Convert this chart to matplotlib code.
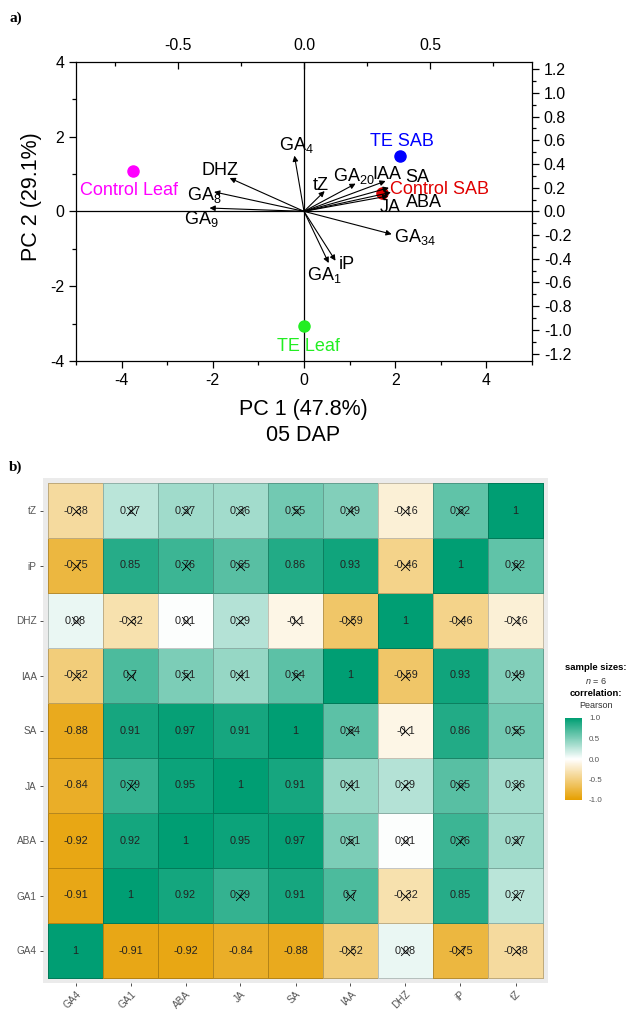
import numpy as np
import matplotlib as mpl
import matplotlib.pyplot as plt
from matplotlib.colors import LinearSegmentedColormap

mpl.rcParams['font.family'] = ['Liberation Sans', 'DejaVu Sans']
mpl.rcParams['mathtext.fontset'] = 'custom'
mpl.rcParams['mathtext.rm'] = 'Liberation Sans'
mpl.rcParams['mathtext.it'] = 'Liberation Sans:italic'
mpl.rcParams['mathtext.default'] = 'regular'
mpl.rcParams['axes.unicode_minus'] = False

# ---- panel a) PCA biplot data ----
samples = ['Control Leaf', 'TE SAB', 'Control SAB', 'TE Leaf']
pc1_scores = [-3.74, 2.10, 1.70, 0.0]
pc2_scores = [1.07, 1.49, 0.49, -3.07]
sample_colors = ['#FF00FF', '#0000FF', '#E00000', '#22EE22']

variables = ['GA4', 'DHZ', 'GA8', 'GA9', 'tZ', 'GA20', 'IAA', 'SA', 'JA', 'ABA', 'GA34', 'iP', 'GA1']
var_labels = ['GA$_4$', 'DHZ', 'GA$_8$', 'GA$_9$', 'tZ', 'GA$_{20}$', 'IAA', 'SA', 'JA', 'ABA',
              'GA$_{34}$', 'iP', 'GA$_1$']
load1 = [-0.038, -0.295, -0.357, -0.375, 0.082, 0.205, 0.324, 0.337, 0.335, 0.345, 0.348, 0.125, 0.098]
load2 = [0.470, 0.281, 0.164, 0.028, 0.171, 0.234, 0.256, 0.199, 0.130, 0.160, -0.193, -0.417, -0.436]

# label anchors (left, baseline) in PC units
var_label_pos = {'GA4': (-0.55, 1.64), 'DHZ': (-2.24, 0.96), 'GA8': (-2.57, 0.31), 'GA9': (-2.63, -0.33),
                 'tZ': (0.20, 0.58), 'GA20': (0.64, 0.80), 'IAA': (1.51, 0.87), 'SA': (2.23, 0.78),
                 'JA': (1.66, -0.02), 'ABA': (2.23, 0.12), 'GA34': (1.97, -0.82), 'iP': (0.76, -1.53),
                 'GA1': (0.07, -1.84)}
sample_label_pos = {'Control Leaf': (-4.91, 0.45), 'TE SAB': (1.44, 1.76),
                    'Control SAB': (1.88, 0.47), 'TE Leaf': (-0.59, -3.73)}

# ---- panel b) correlation matrix ----
hormones = ['GA4', 'GA1', 'ABA', 'JA', 'SA', 'IAA', 'DHZ', 'iP', 'tZ']
corr = np.array([
    [1, -0.91, -0.92, -0.84, -0.88, -0.52, 0.08, -0.75, -0.38],
    [-0.91, 1, 0.92, 0.79, 0.91, 0.7, -0.32, 0.85, 0.27],
    [-0.92, 0.92, 1, 0.95, 0.97, 0.51, 0.01, 0.76, 0.37],
    [-0.84, 0.79, 0.95, 1, 0.91, 0.41, 0.29, 0.65, 0.36],
    [-0.88, 0.91, 0.97, 0.91, 1, 0.64, -0.1, 0.86, 0.55],
    [-0.52, 0.7, 0.51, 0.41, 0.64, 1, -0.59, 0.93, 0.49],
    [0.08, -0.32, 0.01, 0.29, -0.1, -0.59, 1, -0.46, -0.16],
    [-0.75, 0.85, 0.76, 0.65, 0.86, 0.93, -0.46, 1, 0.62],
    [-0.38, 0.27, 0.37, 0.36, 0.55, 0.49, -0.16, 0.62, 1],
])
n_samples = 6
r_crit = 0.811  # two-sided p<0.05 for n=6

W, H = 629, 1010
fig = plt.figure(figsize=(W / 100, H / 100), dpi=100)

def box(l, t, r, b):
    return [l / W, 1 - b / H, (r - l) / W, (b - t) / H]

# ================= a) =================
ax = fig.add_axes(box(76, 61.7, 532, 361))
ax.set_xlim(-5, 5)
ax.set_ylim(-4, 4)
ax.axhline(0, color='k', lw=0.9)
ax.axvline(0, color='k', lw=0.9)
ax.set_xticks([-4, -2, 0, 2, 4])
ax.set_xticks([-5, -3, -1, 1, 3, 5], minor=True)
ax.set_yticks([-4, -2, 0, 2, 4])
ax.set_yticks([-3, -1, 1, 3], minor=True)
ax.tick_params(which='both', direction='out', labelsize=11.4, width=0.9)
ax.tick_params(which='major', length=5)
ax.tick_params(which='minor', length=3)
for s in ax.spines.values():
    s.set_linewidth(0.9)
ax.set_ylabel('PC 2 (29.1%)', fontsize=15.5)
ax.yaxis.set_label_coords(-0.075, 0.548)

for name, x, y, c in zip(samples, pc1_scores, pc2_scores, sample_colors):
    ax.plot(x, y, 'o', ms=8, color=c, zorder=5)
    lx, ly = sample_label_pos[name]
    ax.text(lx, ly, name, color=c, fontsize=13, ha='left', va='baseline', zorder=6)

for v, lab in zip(variables, var_labels):
    lx, ly = var_label_pos[v]
    ax.text(lx, ly, lab, fontsize=13, ha='left', va='baseline', zorder=6)

ax2 = fig.add_axes(box(76, 61.7, 532, 361))
ax2.patch.set_visible(False)
for s in ax2.spines.values():
    s.set_visible(False)
ax2.set_xlim(-0.905, 0.905)
ax2.set_ylim(-1.263, 1.263)
ax2.xaxis.tick_top()
ax2.yaxis.tick_right()
ax2.set_xticks([-0.5, 0.0, 0.5])
ax2.set_xticklabels(['-0.5', '0.0', '0.5'])
ax2.set_xticks([-0.75, -0.25, 0.25, 0.75], minor=True)
ax2.xaxis.set_tick_params(which='both', direction='in', pad=6)
yt = np.round(np.arange(-1.2, 1.21, 0.2), 1)
ax2.set_yticks(yt)
ax2.set_yticklabels([f'{abs(t):.1f}' if abs(t) < 1e-9 else f'{t:.1f}' for t in yt])
ax2.set_yticks(np.round(np.arange(-1.1, 1.21, 0.2), 1), minor=True)
ax2.tick_params(which='both', labelsize=11.4, width=0.9)
ax2.tick_params(which='major', length=5)
ax2.tick_params(which='minor', length=3)

for x, y in zip(load1, load2):
    ax2.annotate('', xy=(x, y), xytext=(0, 0),
                 arrowprops=dict(arrowstyle='-|>', lw=0.8, color='k',
                                 mutation_scale=8, shrinkA=0, shrinkB=0))

fig.text(303 / W, 1 - 410 / H, 'PC 1 (47.8%)', fontsize=15.5, ha='center', va='center')
fig.text(303 / W, 1 - 436 / H, '05 DAP', fontsize=15.5, ha='center', va='center')
fig.text(9 / W, 1 - 22 / H, 'a)', fontsize=11, fontweight='bold', family='Liberation Serif')
fig.text(9 / W, 1 - 471 / H, 'b)', fontsize=11, fontweight='bold', family='Liberation Serif')

# ================= b) =================
cmap = LinearSegmentedColormap.from_list('gg', ['#E69F00', '#FFFFFF', '#009E73'])
hx = fig.add_axes(box(43, 478, 548, 983))
hx.set_facecolor('#EBEBEB')
for s in hx.spines.values():
    s.set_visible(False)
k = len(hormones)
edges = np.arange(k + 1) - 0.5
hx.pcolormesh(edges, edges, corr, cmap=cmap, vmin=-1, vmax=1,
              edgecolors=(0, 0, 0, 0.22), linewidth=0.6)
pad = 5 / 55
hx.set_xlim(-0.5 - pad, k - 0.5 + pad)
hx.set_ylim(-0.5 - pad, k - 0.5 + pad)
for i in range(k):
    for j in range(k):
        v = corr[i, j]
        hx.text(j, i, f'{v:g}', ha='center', va='center', fontsize=7.8, color='#222222')
        if abs(v) < r_crit:
            hx.scatter(j, i, marker='x', s=40, color='k', linewidths=0.6, zorder=4)
hx.set_xticks(range(k))
hx.set_yticks(range(k))
hx.set_xticklabels(hormones, rotation=45, ha='right', rotation_mode='anchor')
hx.set_yticklabels(hormones)
hx.tick_params(length=2.5, width=0.6, color='#333333', labelcolor='#555555', labelsize=7.2, pad=2)

cax = fig.add_axes(box(565, 718, 582, 800))
sm = mpl.cm.ScalarMappable(norm=mpl.colors.Normalize(-1, 1), cmap=cmap)
cb = fig.colorbar(sm, cax=cax, ticks=[-1, -0.5, 0, 0.5, 1])
cb.outline.set_visible(False)
cb.ax.set_yticklabels(['-1.0', '-0.5', '0.0', '0.5', '1.0'])
cb.ax.tick_params(length=3, color='white', width=0.6, labelsize=5.8, labelcolor='#555555', pad=2)

lx = 596 / W
fig.text(lx, 1 - 668 / H, 'sample sizes:', fontsize=6.8, fontweight='bold', ha='center', va='center')
fig.text(lx, 1 - 681 / H, f'$\\it{{n}}$ = {n_samples}', fontsize=6.5, color='#333333', ha='center', va='center')
fig.text(lx, 1 - 694 / H, 'correlation:', fontsize=6.8, fontweight='bold', ha='center', va='center')
fig.text(lx, 1 - 706 / H, 'Pearson', fontsize=6.5, color='#333333', ha='center', va='center')

fig.savefig('out.png', dpi=100)
